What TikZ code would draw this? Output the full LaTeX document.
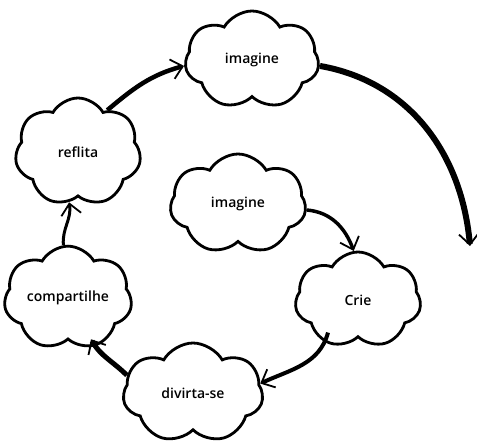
\documentclass[tikz,border=0pt]{standalone}
\usepackage{fontspec}
\setmainfont{Open Sans}[BoldFont={* Semibold}]
\usetikzlibrary{shapes.symbols,arrows.meta}

\tikzset{
  idea/.style={cloud, cloud puffs=7, cloud puff arc=120, aspect=1.4, draw, line width=2.8pt,
    fill=white, font=\fontsize{14}{16}\selectfont\bfseries, inner sep=0pt,
    minimum width=134pt, minimum height=98pt},
  seta/.style={line width=#1, -{Straight Barb[length=11pt,width=20pt,line width=1.8pt]}},
  seta/.default=4pt
}

\begin{document}
\begin{tikzpicture}[x=1pt,y=1pt]
\useasboundingbox (0,0) rectangle (477,-443);
% the clouds
\node[idea] (topo) at (252,-60) {imagine};
\node[idea, minimum width=126pt, minimum height=108pt] (reflita) at (78,-152) {reflita};
\node[idea, minimum width=136pt, minimum height=100pt] (centro) at (238,-204) {imagine};
\node[idea, minimum width=126pt, minimum height=96pt] (crie) at (358,-300) {Crie};
\node[idea, minimum width=128pt, minimum height=100pt] (comp) at (68,-298) {compartilhe};
\node[idea, minimum width=140pt, minimum height=100pt] (divirta) at (193,-393) {divirta-se};
\coordinate (ponta) at (470,-246);
% the arrows, going round
\draw[seta=4.5pt] (reflita.55) to[out=40,in=195] (topo.185);
\draw[seta=6pt] (topo.-5) to[out=-10,in=95] (ponta);
\draw[seta=3.5pt] (centro.-5) to[out=-5,in=110] (crie.95);
\draw[seta=4pt] ([xshift=-30pt,yshift=6pt]crie.south) to[out=-105,in=25] (divirta.8);
\draw[seta=5pt] (divirta.165) to[out=135,in=-60] ([yshift=8pt]comp.-65);
\draw[seta=3pt] (comp.95) to[out=95,in=-80] (reflita.-100);
\end{tikzpicture}
\end{document}
